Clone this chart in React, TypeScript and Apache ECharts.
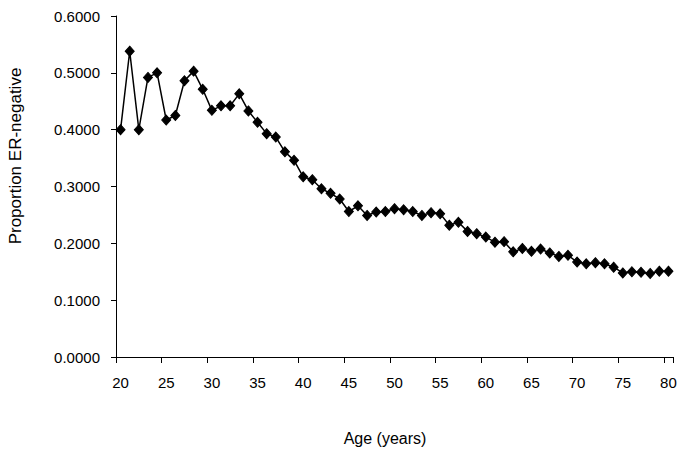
import React, { useEffect, useRef } from "react";
import * as echarts from "echarts";

const ages: string[] = [
  "20","21","22","23","24","25","26","27","28","29",
  "30","31","32","33","34","35","36","37","38","39",
  "40","41","42","43","44","45","46","47","48","49",
  "50","51","52","53","54","55","56","57","58","59",
  "60","61","62","63","64","65","66","67","68","69",
  "70","71","72","73","74","75","76","77","78","79","80",
];

const proportionERNegative: number[] = [
  0.400, 0.538, 0.400, 0.492, 0.500, 0.417, 0.425, 0.486, 0.503, 0.471,
  0.434, 0.442, 0.442, 0.463, 0.433, 0.413, 0.393, 0.387, 0.361, 0.346,
  0.317, 0.312, 0.296, 0.288, 0.278, 0.256, 0.266, 0.249, 0.255, 0.256,
  0.261, 0.259, 0.256, 0.249, 0.254, 0.252, 0.232, 0.237, 0.221, 0.217,
  0.211, 0.202, 0.203, 0.185, 0.191, 0.186, 0.190, 0.183, 0.177, 0.179,
  0.167, 0.164, 0.166, 0.164, 0.158, 0.148, 0.150, 0.149, 0.147, 0.151, 0.151,
];

const xAxisTitle = "Age (years)";
const yAxisTitle = "Proportion ER-negative";

export default function App() {
  const ref = useRef<HTMLDivElement>(null);

  useEffect(() => {
    if (!ref.current) return;
    const chart = echarts.init(ref.current, null, { renderer: "svg" });
    const font = "Liberation Sans, Arial, sans-serif";
    chart.setOption({
      animation: false,
      backgroundColor: "#ffffff",
      grid: { left: 116, right: 12, top: 16, bottom: 101 },
      xAxis: {
        type: "category",
        data: ages,
        boundaryGap: true,
        axisLine: { show: true, lineStyle: { color: "#000", width: 1 } },
        axisTick: { show: true, interval: 4, length: 6, inside: false, lineStyle: { color: "#000", width: 1 } },
        axisLabel: {
          interval: 4,
          margin: 18,
          color: "#000",
          fontSize: 15,
          fontFamily: font,
        },
        splitLine: { show: false },
      },
      yAxis: {
        type: "value",
        min: 0,
        max: 0.6,
        interval: 0.1,
        axisLine: { show: true, lineStyle: { color: "#000", width: 1 } },
        axisTick: { show: true, length: 5, lineStyle: { color: "#000", width: 1 } },
        axisLabel: {
          margin: 16,
          color: "#000",
          fontSize: 15,
          fontFamily: font,
          formatter: (v: number) => v.toFixed(4),
        },
        splitLine: { show: false },
      },
      graphic: [
        {
          type: "text",
          x: 385,
          y: 438,
          style: {
            text: xAxisTitle,
            fill: "#000",
            fontSize: 16,
            fontFamily: font,
            align: "center",
            verticalAlign: "middle",
          },
        },
        {
          type: "text",
          x: 15,
          y: 156,
          rotation: Math.PI / 2,
          style: {
            text: yAxisTitle,
            fill: "#000",
            fontSize: 17,
            fontFamily: font,
            align: "center",
            verticalAlign: "middle",
          },
        },
      ],
      series: [
        {
          type: "line",
          data: proportionERNegative,
          symbol: "diamond",
          symbolSize: [9, 10],
          showAllSymbol: true,
          lineStyle: { color: "#000", width: 1.5 },
          itemStyle: { color: "#000", borderColor: "#000" },
        },
      ],
    });
    return () => chart.dispose();
  }, []);

  return <div ref={ref} style={{ width: 685, height: 458, position: "absolute", left: 0, top: 0 }} />;
}
